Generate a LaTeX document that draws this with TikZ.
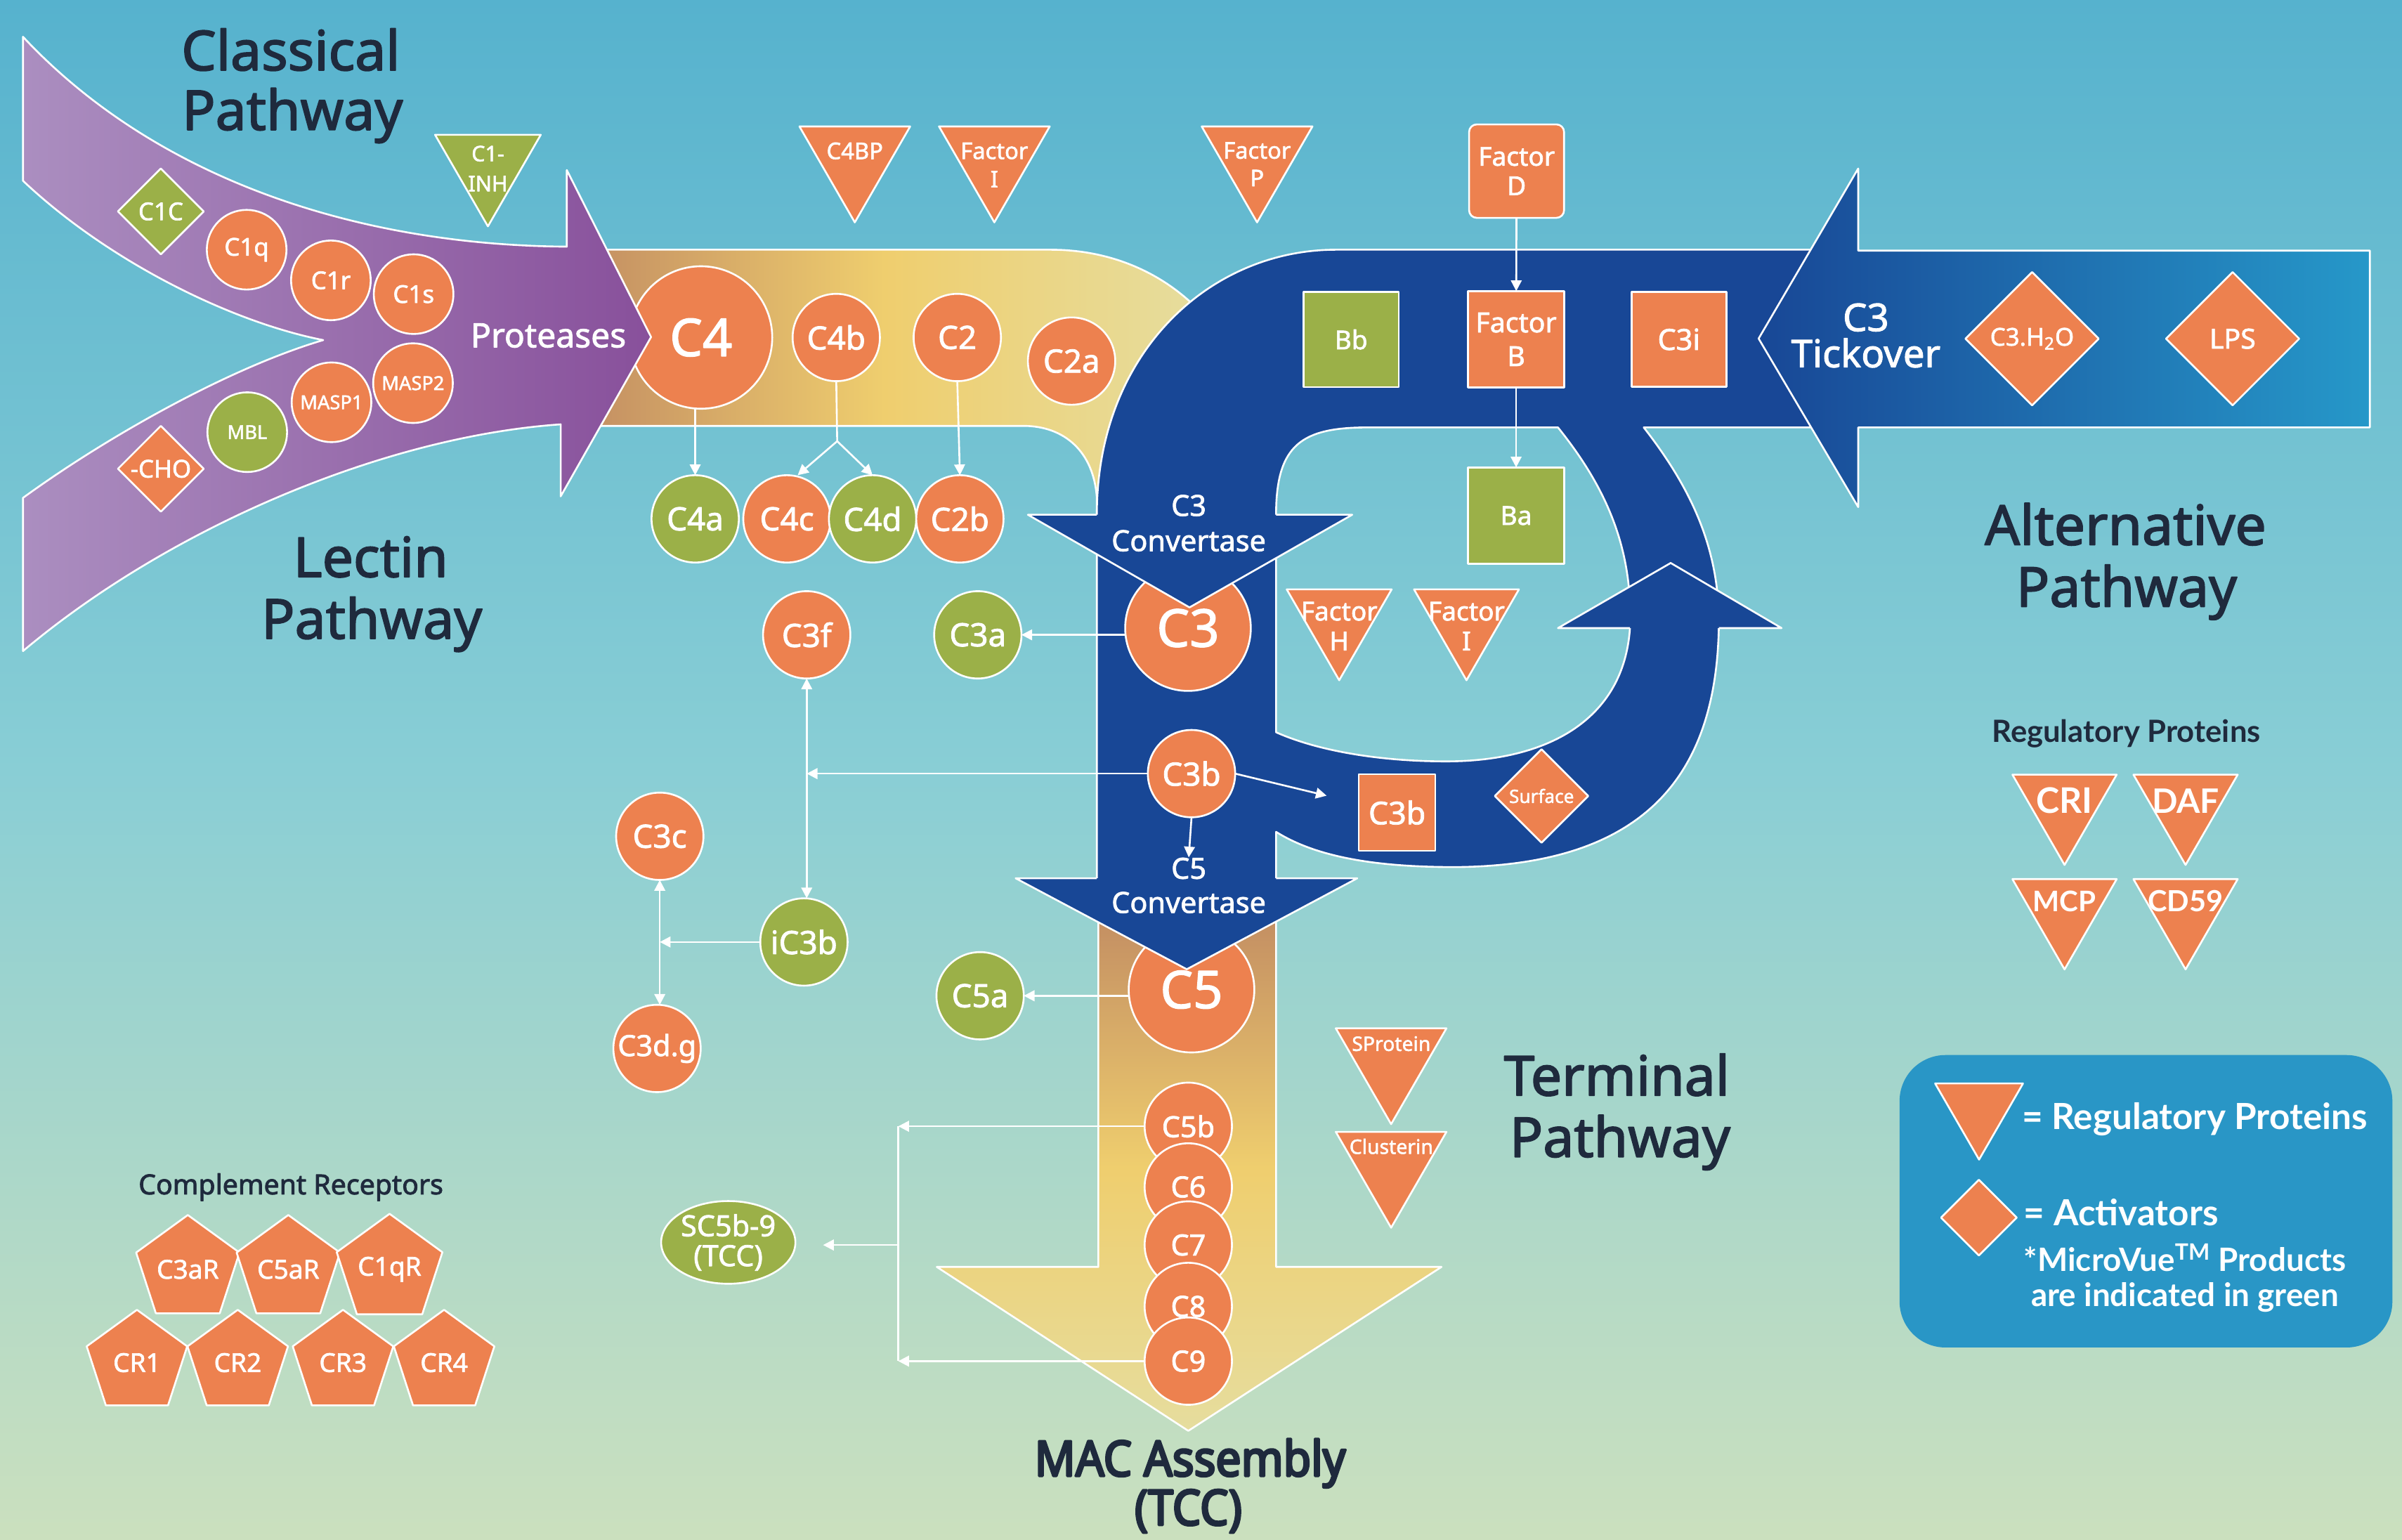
\documentclass[tikz,border=0pt]{standalone}
\usepackage{fontspec}
\usepackage{graphicx}
\setmainfont{Noto Sans}
\newfontfamily\labfont{Noto Sans}[FakeBold=1.8]
\newfontfamily\headfont{Noto Sans}[FakeBold=2.2]
\newfontfamily\macfont{Noto Sans}[FakeBold=4.5,FakeStretch=0.92]
\newfontfamily\legfont{Lato}
\usetikzlibrary{arrows.meta,shapes.geometric}
\newcommand\lf[2]{\labfont\fontsize{#1}{#2}\selectfont}
\newcommand\hf[2]{\headfont\fontsize{#1}{#2}\selectfont}
\newcommand\gf[2]{\legfont\bfseries\fontsize{#1}{#2}\selectfont}
\definecolor{orng}{RGB}{237,129,79}
\definecolor{grn}{RGB}{155,176,72}
\definecolor{dblue}{RGB}{24,71,150}
\definecolor{lblue}{RGB}{38,152,201}
\definecolor{legblue}{RGB}{41,150,198}
\definecolor{ink}{RGB}{31,42,61}
\definecolor{bgtop}{RGB}{86,178,206}
\definecolor{bgmid}{RGB}{137,206,213}
\definecolor{bgbot}{RGB}{203,224,190}
\definecolor{purL}{RGB}{171,142,192}
\definecolor{purR}{RGB}{136,80,155}
\definecolor{ylwL}{RGB}{193,139,98}
\definecolor{ylwM}{RGB}{239,206,110}
\definecolor{ylwR}{RGB}{230,221,158}
\begin{document}
\begin{tikzpicture}[x=1pt,y=-1pt,line join=round,
  wl/.style={draw=white,line width=1.2pt},
  circ/.style={circle,draw=white,line width=1.2pt,fill=#1,inner sep=0pt,outer sep=0pt,text=white,align=center},
  sqr/.style={rectangle,draw=white,line width=1.2pt,fill=#1,inner sep=0pt,outer sep=0pt,text=white,align=center},
  dia/.style={diamond,aspect=1,draw=white,line width=1.2pt,fill=#1,inner sep=0pt,outer sep=0pt},
  tri/.style={regular polygon,regular polygon sides=3,shape border rotate=180,draw=white,line width=1.2pt,fill=#1,inner sep=0pt,outer sep=0pt},
  pent/.style={regular polygon,regular polygon sides=5,draw=white,line width=1.2pt,fill=orng,inner sep=0pt,outer sep=0pt,minimum size=69pt,text=white,font=\lf{17}{20}},
  txt/.style={text=white,align=center,inner sep=0pt},
  head/.style={text=ink,inner sep=0pt,anchor=base,font=\hf{36}{42}},
  conn/.style={draw=white,line width=1.2pt,-{Triangle[length=7pt,width=7pt]}},
  dconn/.style={draw=white,line width=1.2pt,{Triangle[length=7pt,width=7pt]}-{Triangle[length=7pt,width=7pt]}}]
\useasboundingbox (0,0) rectangle (1568,1005);
\fill[top color=bgtop,bottom color=bgbot,middle color=bgmid] (0,0) rectangle (1568,1005);

% upper yellow band
\path[wl,left color=ylwL,right color=ylwR,middle color=ylwM]
 (370,163) -- (686,163) .. controls (725,163) and (760,178) .. (785,205) -- (740,260) -- (740,336)
 -- (716,336) -- (716,325) .. controls (714,295) and (695,278) .. (668,278) -- (370,278) -- cycle;
\node[circ=orng,minimum size=93pt,font=\lf{34}{40}] (C4) at (457.6,220.3) {C4};

% purple arrow
\path[wl,left color=purL,right color=purR]
 (15,24) .. controls (100,115) and (230,160) .. (370,161) -- (370,111) -- (425,220) -- (366,324) -- (366,277)
 .. controls (250,285) and (110,345) .. (15,425) -- (15,325)
 .. controls (70,285) and (150,240) .. (211,222)
 .. controls (150,210) and (70,170) .. (15,118) -- cycle;

% blue alternative pathway shape
\path[wl,fill=dblue,even odd rule]
 (872,163) -- (1213,163) -- (1213,279) -- (1073,279)
 .. controls (1105,320) and (1123,360) .. (1122,410)
 .. controls (1120,505) and (1075,565) .. (950,566)
 .. controls (900,566) and (860,560) .. (833,543)
 -- (833,580) -- (716,580) -- (716,336)
 .. controls (716,230) and (790,163) .. (872,163) -- cycle
 (893,279) -- (1017,279)
 .. controls (1050,320) and (1066,360) .. (1064,410)
 .. controls (1060,470) and (1010,497) .. (944,497)
 .. controls (900,497) and (860,490) .. (833,478)
 -- (833,336) .. controls (833,290) and (850,279) .. (893,279) -- cycle;

% C3 tickover arrow
\path[wl,left color=dblue,right color=lblue]
 (1547,163.6) -- (1213,163.6) -- (1213,110) -- (1148,221) -- (1213,331) -- (1213,279) -- (1547,279) -- cycle;

% lower yellow MAC arrow
\path[wl,top color=ylwL,bottom color=ylwR,middle color=ylwM]
 (717,590) -- (717,827) -- (611.5,827) -- (775.7,934) -- (941,827) -- (833,827) -- (833,590);

% C3 and its arrowhead
\node[circ=orng,minimum size=82pt,font=\lf{34}{40}] (C3) at (775.5,410) {C3};
\fill[dblue] (671,336) -- (776.5,396.5) -- (882.7,336) -- cycle;
\draw[wl] (716,336) -- (671,336) -- (776.5,396.5) -- (882.7,336) -- (833,336);
\node[txt,font=\lf{19}{23}] (C3conv) at (776,341.5) {C3\\Convertase};

% up arrowhead of the loop
\fill[dblue] (1017,410) -- (1090.6,367.5) -- (1163,410) -- cycle;
\draw[wl] (1064,410) -- (1017,410) -- (1090.6,367.5) -- (1163,410) -- (1122,410);

% C5 and its arrowhead
\node[circ=orng,minimum size=82pt,font=\lf{34}{40}] (C5) at (777.8,646) {C5};
\fill[dblue] (663,573.3) -- (774.7,632.7) -- (886,573.3) -- cycle;
\draw[wl] (716,573.3) -- (663,573.3) -- (774.7,632.7) -- (886,573.3) -- (833,573.3);
\node[txt,font=\lf{19}{22.3}] (C5conv) at (776,578) {C5\\Convertase};

% classical / lectin nodes
\node[dia=grn,minimum width=56pt,minimum height=56pt] (C1C) at (105,138) {};
\node[txt,font=\lf{16}{19}] (C1Ct) at (C1C) {C1C};
\node[dia=orng,minimum width=56pt,minimum height=56pt] (CHO) at (105,306) {};
\node[txt,font=\lf{16}{19}] (CHOt) at (CHO) {-CHO};
\node[circ=orng,minimum size=52pt,font=\lf{16}{19}] (C1q) at (161,163) {C1q};
\node[circ=orng,minimum size=52pt,font=\lf{16}{19}] (C1r) at (216,183) {C1r};
\node[circ=orng,minimum size=52pt,font=\lf{16}{19}] (C1s) at (270,192) {C1s};
\node[circ=orng,minimum size=52pt,font=\lf{12.5}{15}] (MASP1) at (216.4,262.6) {MASP1};
\node[circ=orng,minimum size=52pt,font=\lf{12.5}{15}] (MASP2) at (269.6,250.1) {MASP2};
\node[circ=grn,minimum size=52pt,font=\lf{12.5}{15}] (MBL) at (161.4,282.1) {MBL};
\node[tri=grn,minimum size=79.7pt] (C1INH) at (318.5,107.9) {};
\node[txt,font=\lf{14}{19.6}] (C1INHt) at (318.5,110) {C1-\\INH};
\node[txt,font=\lf{22}{26}] (prot) at (358,219) {Proteases};

% C4 band nodes
\node[circ=orng,minimum size=57pt,font=\lf{21}{25}] (C4b) at (545.9,220.3) {C4b};
\node[circ=orng,minimum size=57pt,font=\lf{21}{25}] (C2) at (624.9,220.3) {C2};
\node[circ=orng,minimum size=57pt,font=\lf{21}{25}] (C2a) at (699.5,235.7) {C2a};
\node[circ=grn,minimum size=57pt,font=\lf{21}{25}] (C4a) at (453.8,338.7) {C4a};
\node[circ=orng,minimum size=57pt,font=\lf{21}{25}] (C4c) at (513.7,338.7) {C4c};
\node[circ=grn,minimum size=57pt,font=\lf{21}{25}] (C4d) at (569.6,338.7) {C4d};
\node[circ=orng,minimum size=57pt,font=\lf{21}{25}] (C2b) at (626.6,338.7) {C2b};

% top regulators
\node[tri=orng,minimum size=83.5pt] (C4BP) at (558,103.4) {};
\node[txt,font=\lf{15}{18}] (C4BPt) at (558,98.5) {C4BP};
\node[tri=orng,minimum size=83.5pt] (FI1) at (649.1,103.4) {};
\node[txt,font=\lf{15}{18.5}] (FI1t) at (649.1,107.7) {Factor\\I};
\node[tri=orng,minimum size=83.5pt] (FP) at (820.6,103.4) {};
\node[txt,font=\lf{15}{18}] (FPt) at (820.6,107.2) {Factor\\P};

% alternative pathway nodes
\node[sqr=orng,rounded corners=5pt,minimum width=62pt,minimum height=61pt,font=\lf{17}{19.2}] (FD) at (990,111.7) {Factor\\D};
\node[sqr=grn,minimum width=62pt,minimum height=62pt,font=\lf{17}{20}] (Bb) at (882,221.6) {Bb};
\node[sqr=orng,minimum width=63pt,minimum height=63pt,font=\lf{18}{22}] (FB) at (989.7,221.5) {Factor\\B};
\node[sqr=orng,minimum width=62pt,minimum height=62pt,font=\lf{19}{22}] (C3i) at (1096,221.5) {C3i};
\node[sqr=grn,minimum width=63pt,minimum height=63pt,font=\lf{17}{20}] (Ba) at (989.7,336.6) {Ba};
\node[txt,font=\lf{25}{23.6}] (tick) at (1218,219) {C3\\Tickover};
\node[dia=orng,minimum width=87pt,minimum height=87pt] (C3H2O) at (1326.5,221.1) {};
\node[txt,font=\lf{16}{19}] (C3H2Ot) at (C3H2O) {C3.H\textsubscript{2}O};
\node[dia=orng,minimum width=87pt,minimum height=87pt] (LPS) at (1457.4,221.1) {};
\node[txt,font=\lf{18}{21}] (LPSt) at (LPS) {LPS};
\node[tri=orng,minimum size=79.1pt] (FH) at (874.2,404.5) {};
\node[txt,font=\lf{17}{19.5}] (FHt) at (874.2,408.7) {Factor\\H};
\node[tri=orng,minimum size=79.1pt] (FI2) at (957.3,404.5) {};
\node[txt,font=\lf{17}{19.5}] (FI2t) at (957.3,408.7) {Factor\\I};
\node[sqr=orng,minimum width=50pt,minimum height=50pt,font=\lf{20.5}{24}] (C3bsq) at (912,530.4) {C3b};
\node[dia=orng,minimum width=61pt,minimum height=61pt] (Surf) at (1006.3,519.6) {};
\node[txt,font=\lf{12}{14}] (Surft) at (Surf) {Surface};

% C3 products
\node[circ=grn,minimum size=57pt,font=\lf{21}{25}] (C3a) at (638.3,414.4) {C3a};
\node[circ=orng,minimum size=57pt,font=\lf{21}{25}] (C3f) at (526.6,414.4) {C3f};
\node[circ=orng,minimum size=57pt,font=\lf{21}{25}] (C3b) at (777.8,505) {C3b};
\node[circ=orng,minimum size=57pt,font=\lf{21}{25}] (C3c) at (430.7,545.9) {C3c};
\node[circ=grn,minimum size=57pt,font=\lf{21}{25}] (iC3b) at (524.8,614.9) {iC3b};
\node[circ=orng,minimum size=57pt,font=\lf{19}{22}] (C3dg) at (428.9,684.4) {C3d.g};
\node[circ=grn,minimum size=57pt,font=\lf{21}{25}] (C5a) at (639.8,650) {C5a};

% terminal complex
\node[circ=orng,minimum size=57pt,font=\lf{19}{22}] (C5b) at (775.7,735.2) {C5b};
\node[circ=orng,minimum size=57pt,font=\lf{19}{22}] (C6) at (775.7,774.8) {C6};
\node[circ=orng,minimum size=57pt,font=\lf{19}{22}] (C7) at (775.7,812.7) {C7};
\node[circ=orng,minimum size=57pt,font=\lf{19}{22}] (C8) at (775.7,852.8) {C8};
\node[circ=orng,minimum size=57pt,font=\lf{19}{22}] (C9) at (775.7,888.5) {C9};
\node[ellipse,draw=white,line width=1.2pt,fill=grn,inner sep=0pt,minimum width=80pt,minimum height=54pt,text=white,align=center,font=\lf{19}{19.5}] (SC5b9) at (475.4,811) {SC5b-9\\(TCC)};
\node[tri=orng,minimum size=83.4pt] (SProt) at (908.1,692.1) {};
\node[txt,font=\lf{13}{15},anchor=base] (SPrott) at (908.2,686) {SProtein};
\node[tri=orng,minimum size=83.4pt] (Clus) at (908.1,759.7) {};
\node[txt,font=\lf{13}{15},anchor=base] (Clust) at (908.2,753.2) {Clusterin};

% complement receptors
\node[text=ink,inner sep=0pt,anchor=base,font=\hf{18}{21}] (CRtitle) at (189.9,779.6) {Complement Receptors};
\node[pent] (C3aR) at (122.6,828.6) {C3aR};
\node[pent] (C5aR) at (188.2,828.6) {C5aR};
\node[pent] (C1qR) at (254.3,828.6) {C1qR};
\node[pent] (CR1) at (89.4,889.5) {CR1};
\node[pent] (CR2) at (155.2,889.5) {CR2};
\node[pent] (CR3) at (223.9,889.5) {CR3};
\node[pent] (CR4) at (289.9,889.5) {CR4};

% regulatory proteins
\node[text=ink,inner sep=0pt,anchor=base,font=\gf{20}{24}] (RPtitle) at (1388,484.5) {Regulatory Proteins};
\node[tri=orng,minimum size=78.6pt] (CRI) at (1347.7,525.3) {};
\node[txt,anchor=base,font=\gf{23}{26}] (CRIt) at (1347.7,530.8) {CRI};
\node[tri=orng,minimum size=78.6pt] (DAF) at (1426.7,525.3) {};
\node[txt,anchor=base,font=\gf{22}{26}] (DAFt) at (1426.7,530.8) {DAF};
\node[tri=orng,minimum size=78.6pt] (MCP) at (1347.7,593.5) {};
\node[txt,anchor=base,font=\gf{18.5}{22}] (MCPt) at (1347.7,594.9) {MCP};
\node[tri=orng,minimum size=78.6pt] (CD59) at (1426.7,593.5) {};
\node[txt,anchor=base,font=\gf{19}{22}] (CD59t) at (1426.7,594.9) {CD59};

% legend
\node[fill=legblue,rounded corners=30pt,minimum width=321.7pt,minimum height=190.9pt,inner sep=0pt] (legend) at (1400.85,784.15) {};
\node[tri=orng,minimum size=66.3pt] (legtri) at (1291.9,723.8) {};
\node[txt,anchor=base west,font=\gf{23.5}{28}] (legt1) at (1319.9,737.2) {= Regulatory Proteins};
\node[dia=orng,minimum width=49.4pt,minimum height=49.4pt] (legdia) at (1291.8,794.8) {};
\node[txt,anchor=base west,font=\gf{23.5}{28}] (legt2) at (1321,799.9) {= Activators};
\node[txt,anchor=base,font=\gf{21}{24}] (legt3) at (1426.3,829.9) {*MicroVue\textsuperscript{TM} Products};
\node[txt,anchor=base,font=\gf{21}{24}] (legt4) at (1426.3,853) {are indicated in green};

% headings
\node[head] (clsA) at (189.8,45.9) {Classical};
\node[head] (clsB) at (190.9,84.8) {Pathway};
\node[head] (lecA) at (242,376.6) {Lectin};
\node[head] (lecB) at (242.7,416.9) {Pathway};
\node[head] (altA) at (1387.5,355.7) {Alternative};
\node[head] (altB) at (1388.2,396) {Pathway};
\node[head] (terA) at (1055.4,715.1) {Terminal};
\node[head] (terB) at (1057.5,755.2) {Pathway};
\node[text=ink,inner sep=0pt,anchor=base,font={\macfont\fontsize{32}{36}\selectfont}] (macA) at (776.9,963.5) {MAC Assembly};
\node[text=ink,inner sep=0pt,anchor=base,font={\macfont\fontsize{32}{36}\selectfont}] (macB) at (775.7,995.5) {(TCC)};

% connectors
\draw[conn] (C4a.north |- C4.south) -- (C4a.north);
\coordinate (c4s) at (546.5,288);
\draw[wl] (C4b.south) -- (c4s);
\draw[conn] (c4s) -- ([xshift=7pt]C4c.north);
\draw[conn] (c4s) -- (C4d.north);
\draw[conn] (C2.south) -- (C2b.north);
\draw[conn] (FD) -- (FB);
\draw[conn] (FB) -- (Ba);
\draw[conn] (C3.west |- C3a) -- (C3a.east);
\draw[conn] (C3b.west) -- (C3b.west -| C3f.south);
\draw[dconn] (C3f.south) -- (C3f.south |- iC3b.north);
\draw[conn] (iC3b.west) -- (iC3b.west -| C3c.south);
\draw[dconn] (C3c.south) -- (C3c.south |- C3dg.north);
\draw[conn] (C3b.south) -- (C5conv.north);
\draw[conn] (C3b.east) -- ([xshift=-21pt,yshift=11pt]C3bsq.west);
\draw[conn] (C5.west |- C5a) -- (C5a.east);
\coordinate (brk) at (586.4,812.7);
\coordinate (sctip) at (537.3,812.7);
\draw[conn] (C5b.west) -- (C5b.west -| brk);
\draw[conn] (C9.west) -- (C9.west -| brk);
\draw[wl] (C5b.west -| brk) -- (C9.west -| brk);
\draw[conn] (brk) -- (sctip);
\end{tikzpicture}
\end{document}
